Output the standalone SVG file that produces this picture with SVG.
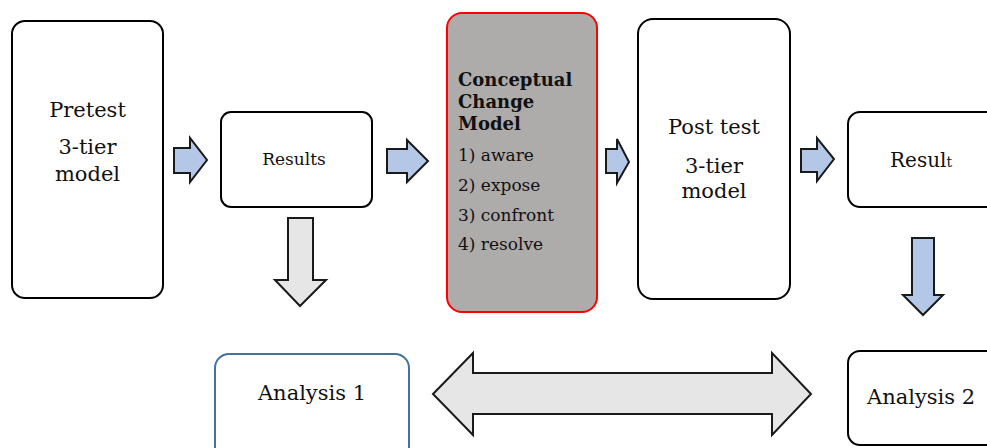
<svg xmlns="http://www.w3.org/2000/svg" width="987" height="448" viewBox="0 0 987 448">
<style>
.box{fill:#fff;stroke:#000;stroke-width:2}
.t{font-family:"DejaVu Serif","Liberation Serif",serif;fill:#111}
.c{text-anchor:middle}
.blue{fill:#B4C7E7;stroke:#1a1a1a;stroke-width:2;stroke-linejoin:miter}
.gray{fill:#E6E6E6;stroke:#1a1a1a;stroke-width:2;stroke-linejoin:miter}
</style>
<rect width="987" height="448" fill="#fff"/>
<g id="pretest">
<rect class="box" x="12" y="21" width="151" height="277" rx="13"/>
<text class="t c" x="87.5" y="117" font-size="21">Pretest</text>
<text class="t c" x="87.5" y="154" font-size="21">3-tier</text>
<text class="t c" x="87.5" y="181" font-size="21">model</text>
</g>
<g id="results">
<rect class="box" x="221" y="112" width="151" height="95" rx="10"/>
<text class="t c" x="294" y="165" font-size="17">Results</text>
</g>
<g id="conceptual">
<rect x="447" y="13" width="150" height="299" rx="15" fill="#AEABAB" stroke="#FF0000" stroke-width="2"/>
<text class="t" x="458" y="86" font-size="18" font-weight="bold">Conceptual</text>
<text class="t" x="458" y="108" font-size="18" font-weight="bold">Change</text>
<text class="t" x="458" y="130" font-size="18" font-weight="bold">Model</text>
<text class="t" x="458" y="161" font-size="17">1) aware</text>
<text class="t" x="458" y="191" font-size="17">2) expose</text>
<text class="t" x="458" y="221" font-size="17">3) confront</text>
<text class="t" x="458" y="250" font-size="17">4) resolve</text>
</g>
<g id="posttest">
<rect class="box" x="638" y="19" width="152" height="280" rx="15"/>
<text class="t c" x="714" y="134" font-size="21">Post test</text>
<text class="t c" x="714" y="173" font-size="21">3-tier</text>
<text class="t c" x="714" y="198" font-size="21">model</text>
</g>
<g id="result">
<rect class="box" x="848" y="112" width="160" height="95" rx="12"/>
<text class="t" x="890" y="167" font-size="20">Resul<tspan font-size="14">t</tspan></text>
</g>
<g id="analysis1">
<rect x="215" y="354" width="194" height="110" rx="14" fill="#fff" stroke="#41719C" stroke-width="2"/>
<text class="t c" x="312" y="400" font-size="21">Analysis 1</text>
</g>
<g id="analysis2">
<rect class="box" x="848" y="351" width="160" height="94" rx="12"/>
<text class="t" x="867" y="404" font-size="21">Analysis 2</text>
</g>
<g id="connectors">
<polygon class="blue" points="174,148 190,148 190,138 207,160 190,182 190,173 174,173"/>
<polygon class="blue" points="387,149 407,149 407,140 428,161 407,182 407,173 387,173"/>
<polygon class="blue" points="606,149 617,149 617,139 629,162 617,183 617,173 606,173"/>
<polygon class="blue" points="801,149 817,149 817,138 834,159 817,181 817,172 801,172"/>
<polygon class="gray" points="288,218 313,218 313,280 326,280 300,306 275,280 288,280"/>
<polygon class="blue" points="912,238 934,238 934,295 943,295 923,315 903,295 912,295"/>
<polygon class="gray" points="433,394 473,353 473,373 772,373 772,353 811,394 772,435 772,414 473,414 473,435"/>
</g>
</svg>
